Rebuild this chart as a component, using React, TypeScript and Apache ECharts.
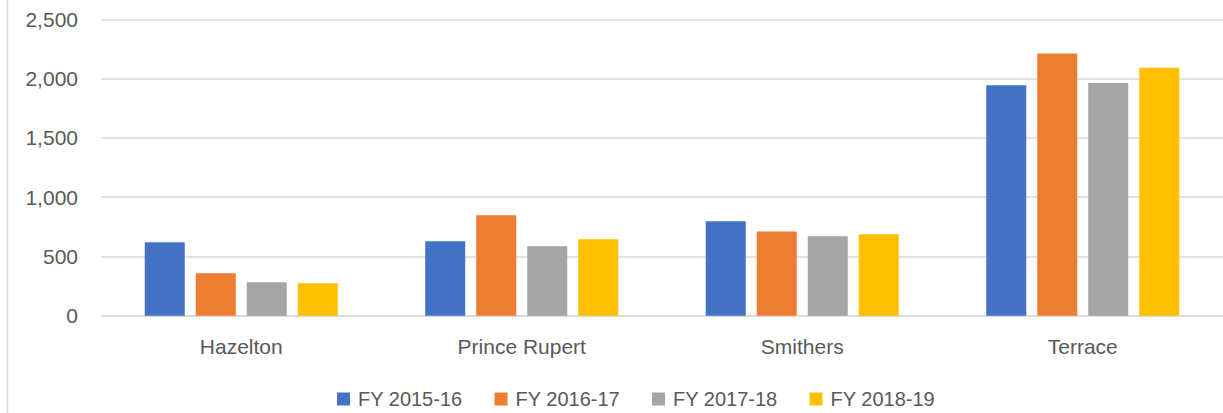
import React, { useEffect, useRef } from "react";
import * as echarts from "echarts";

const categories = ["Hazelton", "Prince Rupert", "Smithers", "Terrace"];
const seriesNames = ["FY 2015-16", "FY 2016-17", "FY 2017-18", "FY 2018-19"];
const fy1516 = [620, 628, 797, 1946];
const fy1617 = [358, 848, 710, 2213];
const fy1718 = [282, 586, 670, 1963];
const fy1819 = [274, 645, 687, 2092];
const colors = ["#4472C4", "#ED7D31", "#A5A5A5", "#FFC000"];
const yTicks = [0, 500, 1000, 1500, 2000, 2500];

export default function App() {
  const ref = useRef<HTMLDivElement>(null);
  useEffect(() => {
    if (!ref.current) return;
    const chart = echarts.init(ref.current, null, { renderer: "svg" });
    const data = [fy1516, fy1617, fy1718, fy1819];
    const font = "Liberation Sans, Arial, sans-serif";
    chart.setOption({
      animation: false,
      backgroundColor: "#ffffff",
      textStyle: { fontFamily: font },
      grid: { left: 101, right: 0, top: 19.5, bottom: 97.3, containLabel: false },
      legend: {
        left: 332,
        top: 384,
        itemWidth: 13,
        itemHeight: 13,
        itemGap: 32,
        icon: "rect",
        textStyle: { color: "#595959", fontSize: 20, fontFamily: font, padding: [0, 0, 0, 3] },
        data: seriesNames,
      },
      xAxis: {
        type: "category",
        data: categories,
        axisLine: { show: true, lineStyle: { color: "#d9d9d9", width: 1.5 } },
        axisTick: { show: false },
        axisLabel: { color: "#595959", fontSize: 21, fontFamily: font, margin: 20 },
      },
      yAxis: {
        type: "value",
        min: yTicks[0],
        max: yTicks[yTicks.length - 1],
        interval: 500,
        axisLine: { show: false },
        axisTick: { show: false },
        splitLine: { lineStyle: { color: "#d9d9d9", width: 1.5 } },
        axisLabel: {
          color: "#595959",
          fontSize: 21,
          fontFamily: font,
          margin: 23,
          formatter: (v: number) => v.toLocaleString("en-US"),
        },
      },
      graphic: [
        {
          type: "line",
          shape: { x1: 7.5, y1: 0, x2: 7.5, y2: 413 },
          style: { stroke: "#d9d9d9", lineWidth: 1.5 },
        },
      ],
      series: seriesNames.map((name, i) => ({
        name,
        type: "bar",
        data: data[i],
        barWidth: 40,
        barGap: "27.5%",
        itemStyle: { color: colors[i] },
      })),
    });
    return () => chart.dispose();
  }, []);
  return (
    <div
      ref={ref}
      style={{ position: "absolute", left: 0, top: 0, width: 1223, height: 413 }}
    />
  );
}
